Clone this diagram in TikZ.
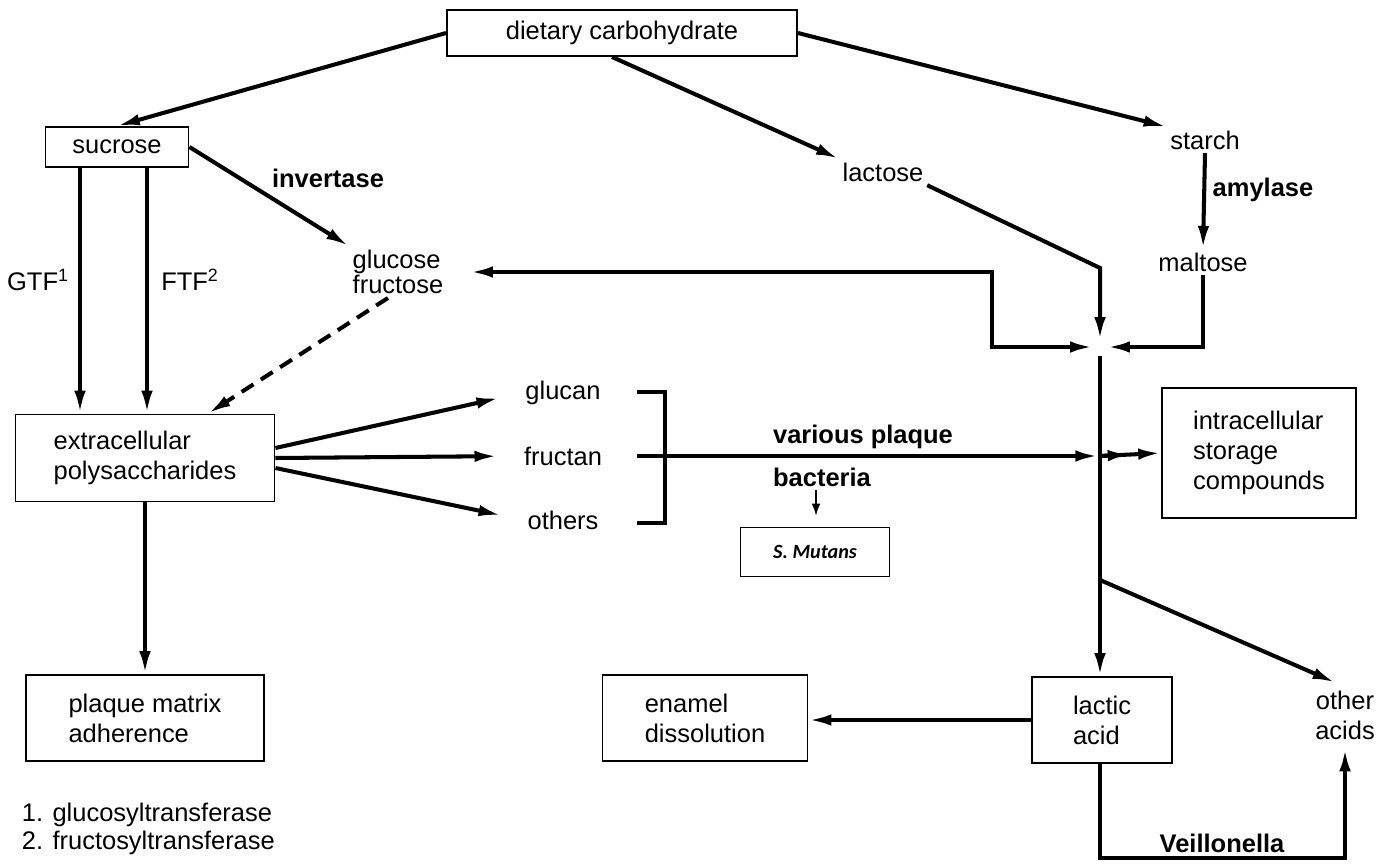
\documentclass[tikz,border=0pt]{standalone}
\usepackage{fontspec}
\setmainfont{Liberation Sans}
\newfontfamily\calfont{Carlito}
\usepackage{tikz}
\usetikzlibrary{arrows.meta,calc}

\begin{document}
\begin{tikzpicture}[x=0.02cm, y=-0.02cm,
  every node/.style={font=\fontsize{14.5}{17}\selectfont},
  box/.style={draw, line width=1.1pt, align=left, inner sep=0pt},
  txt/.style={align=left, inner sep=2pt},
  bold/.style={inner sep=2pt, font=\fontsize{14.5}{17}\selectfont\bfseries},
  arr/.style={line width=2.3pt, -{Latex[length=13pt,width=6.5pt]}},
  line/.style={line width=2.3pt}]
  \useasboundingbox (0,0) rectangle (1391,864);

  % boxes
  \node[box, minimum width=7cm, minimum height=0.92cm] (diet) at (622,33) {dietary carbohydrate};
  \node[box, minimum width=2.86cm, minimum height=0.8cm] (sucrose) at (117,147) {sucrose};
  \node[box, minimum width=5.18cm, minimum height=1.74cm] (poly) at (145,458) {extracellular\\polysaccharides};
  \node[box, minimum width=4.76cm, minimum height=1.72cm] (plaque) at (145,718) {plaque matrix\\adherence};
  \node[box, minimum width=4.1cm, minimum height=1.72cm] (enamel) at (705,718) {enamel\\dissolution};
  \node[box, minimum width=2.8cm, minimum height=1.72cm] (lactic) at (1102,720) {lactic\\acid};
  \node[box, minimum width=3.88cm, minimum height=2.6cm] (intra) at (1259,453) {intracellular\\storage\\compounds};
  \node[box, minimum width=2.98cm, minimum height=0.98cm,
        font=\calfont\fontsize{11.5}{14}\selectfont\bfseries\itshape] (mutans) at (815,552) {S. Mutans};

  % plain labels
  \node[txt] (lactose) at (883,172) {lactose};
  \node[txt] (starch) at (1205,140) {starch};
  \node[txt] (maltose) at (1203,262) {maltose};
  \node[txt, font=\fontsize{14.5}{14.5}\selectfont] (gluc) at (398,272) {glucose\\fructose};
  \node[txt] (glucan) at (563,393) {glucan};
  \node[txt] (fructan) at (563,456) {fructan};
  \node[txt] (others) at (563,520) {others};
  \node[txt, align=center] (oacids) at (1345,715) {other\\acids};
  \node[txt] (gtf) at (38,280) {GTF\textsuperscript{1}};
  \node[txt] (ftf) at (190,280) {FTF\textsuperscript{2}};
  \node[bold] (invert) at (328,178) {invertase};
  \node[bold] (amyl) at (1263,190) {amylase};
  \node[bold] (various) at (863,437) {various plaque};
  \node[bold] (bact) at (822,477) {bacteria};
  \node[bold] (veil) at (1222,843) {Veillonella};
  \node[txt, anchor=west] (note1) at (18,815) {1. glucosyltransferase};
  \node[txt, anchor=west] (note2) at (18,843) {2. fructosyltransferase};

  \coordinate (jn) at (1100,347);
  \coordinate (jf) at (1100,456);
  \coordinate (sp) at (1100,580);
  \coordinate (lbend) at (1100,268);
  \coordinate (vb) at (1100,858);
  \coordinate (bt) at (637,392);
  \coordinate (bb) at (637,523);

  % top fan
  \draw[arr] (diet.west) -- (sucrose.north);
  \draw[arr] ([xshift=-0.2cm]diet.south) -- (lactose.north west);
  \draw[arr] (diet.east) -- (starch.north west);
  \draw[arr] (sucrose.east) -- (gluc.north west);

  % sucrose to polysaccharides
  \draw[arr] ($(sucrose.south)+(-37,0)$) -- ($(poly.north)+(-65,0)$);
  \draw[arr] ($(sucrose.south)+(30,0)$) -- ($(poly.north)+(2,0)$);
  \draw[arr, dash pattern=on 8pt off 5pt] ($(gluc.south)+(-10,0)$) -- ($(poly.north)+(63,0)$);
  \draw[arr] (poly.south) -- (plaque.north);

  \draw[arr, shorten >=13pt] ($(poly.east)+(0,-10)$) -- (glucan.west);
  \draw[arr, shorten >=13pt] (poly.east) -- (fructan.west);
  \draw[arr, shorten >=13pt] ($(poly.east)+(0,10)$) -- (others.west);
  \draw[line] (bt) -- ++(28,0) |- (bb);

  % sugars into the junction
  \draw[arr, shorten >=4pt] (lactose.south east) -- (lbend) -- (jn);
  \draw[line, {Latex[length=13pt,width=6.5pt]}-{Latex[length=13pt,width=6.5pt]}, shorten <=13pt, shorten >=4pt]
    (gluc.east) -| ($(jn)+(-108,0)$) -- (jn);
  \draw[arr] (starch.south) -- (maltose.north);
  \draw[arr, shorten >=4pt] (maltose.south) |- (jn);

  % to acids
  \draw[arr, shorten >=1pt] (fructan.east -| bt) -- (jf);
  \draw[arr] (jf) -- ($(jf)!0.5!(intra.west)$);
  \draw[arr] (jf) -- (intra.west);
  \draw[arr, shorten <=5pt] (jn) -- (lactic.north -| jn);
  \draw[arr, shorten >=6pt] (sp) -- (oacids.north);
  \draw[arr] (lactic.west) -- (enamel.east |- lactic.west);
  \draw[arr, shorten >=3pt] (lactic.south -| jn) -- (vb) -| (oacids.south);
  \draw[line width=1.2pt, -{Latex[length=7pt,width=5pt]}, shorten >=6pt]
    ($(bact.south)+(-6,0)$) -- ($(mutans.north)+(1,0)$);
\end{tikzpicture}
\end{document}
